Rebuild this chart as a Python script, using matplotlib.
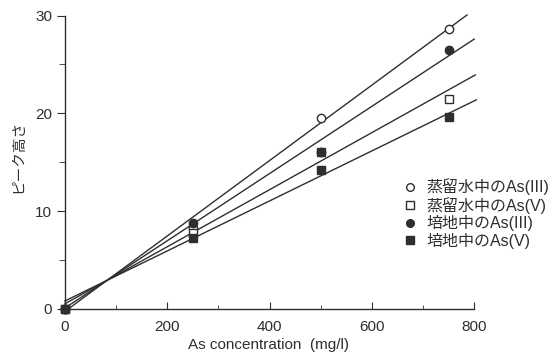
import matplotlib
matplotlib.use("Agg")
import matplotlib.pyplot as plt
import numpy as np

# ---- data ----
conc = [0, 250, 500, 750]
as3_water = [0, 8.3, 19.5, 28.6]    # 蒸留水中のAs(III)  open circle
as5_water = [0, 7.8, 16.0, 21.5]    # 蒸留水中のAs(V)   open square
as3_medium = [0, 8.8, 16.0, 26.5]   # 培地中のAs(III)   filled circle
as5_medium = [0, 7.2, 14.2, 19.6]   # 培地中のAs(V)    filled square
labels = ["蒸留水中のAs(III)", "蒸留水中のAs(V)", "培地中のAs(III)", "培地中のAs(V)"]

# regression lines as drawn (slope, intercept, end of line)
fit_slopes = [0.0386, 0.0344, 0.0292, 0.0256]
fit_intercepts = [-0.27, 0.08, 0.51, 0.80]
fit_x_ends = [786, 800, 802, 804]

x_ticks = [0, 200, 400, 600, 800]
y_ticks = [0, 10, 20, 30]

plt.rcParams['font.family'] = ['Liberation Sans', 'Noto Sans CJK JP', 'DejaVu Sans']
ink = '#2e2e2e'

fig = plt.figure(figsize=(5.54, 3.55), dpi=100)
ax = fig.add_axes([0.117, 0.130, 0.739, 0.826])

for s, b, xe in zip(fit_slopes, fit_intercepts, fit_x_ends):
    xs = np.array([0, xe])
    ax.plot(xs, s * xs + b, color=ink, lw=1.0, clip_on=False, zorder=2)

series = [as3_water, as5_water, as3_medium, as5_medium]
styles = [dict(marker='o', mfc='white'), dict(marker='s', mfc='white'),
          dict(marker='o', mfc=ink), dict(marker='s', mfc=ink)]
for ys, st, lab in zip(series, styles, labels):
    ax.plot(conc, ys, linestyle='none', ms=6, mec=ink, mew=1.0,
            label=lab, clip_on=False, zorder=3, **st)

ax.set_xlim(0, 800)
ax.set_ylim(0, 30)
ax.set_xticks(x_ticks)
ax.set_xticks([100, 300, 500, 700], minor=True)
ax.set_yticks(y_ticks)
ax.set_yticks([5, 15, 25], minor=True)
ax.tick_params(axis='x', which='both', direction='in', colors=ink, labelsize=11, pad=8)
ax.tick_params(axis='x', which='major', length=5)
ax.tick_params(axis='x', which='minor', length=3)
ax.tick_params(axis='y', which='both', direction='out', colors=ink, labelsize=11, pad=3)
ax.tick_params(axis='y', which='major', length=6)
ax.tick_params(axis='y', which='minor', length=4)
for sp in ['top', 'right']:
    ax.spines[sp].set_visible(False)
for sp in ['left', 'bottom']:
    ax.spines[sp].set_color(ink)
    ax.spines[sp].set_linewidth(1.0)

ax.set_xlabel("As concentration  (mg/l)", fontsize=11, color=ink)
ax.xaxis.set_label_coords(0.497, -0.099)
ax.set_ylabel("ピーク高さ", fontsize=10.5, color=ink, family=['Noto Sans CJK JP'])
ax.yaxis.set_label_coords(-0.097, 0.52)

leg = ax.legend(loc='upper left', bbox_to_anchor=(0.813, 0.467), frameon=False,
                fontsize=11.5, handlelength=0.8, handletextpad=0.6,
                labelspacing=0.1, borderaxespad=0)
for t in leg.get_texts():
    t.set_color(ink)
    t.set_family(['Liberation Sans', 'Noto Sans CJK JP'])
for h in leg.legend_handles:
    h.set_markersize(5.5)

fig.savefig("out.png", dpi=100, facecolor='white')
